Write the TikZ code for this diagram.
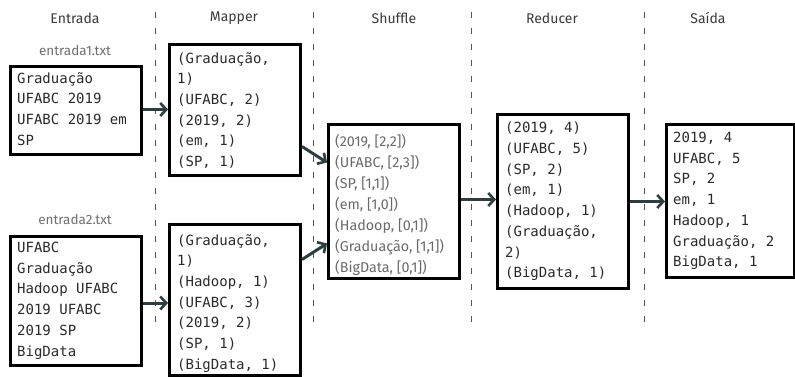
\documentclass[tikz,border=0pt]{standalone}
\usepackage{fontspec}
\setmainfont{Fira Sans}
\setmonofont{DejaVu Sans Mono}
\usetikzlibrary{arrows.meta,calc}
\definecolor{arrowc}{HTML}{2E3D3D}
\definecolor{titlec}{HTML}{3A3A3A}
\definecolor{labelc}{HTML}{707070}
\definecolor{boxtxt}{HTML}{2A2A2A}
\definecolor{shuftxt}{HTML}{6A6A6A}
\definecolor{dashc}{HTML}{555555}
\begin{document}
\begin{tikzpicture}[x=1pt,y=-1pt,
  box/.style={draw=black,line width=3pt,rectangle,inner sep=0pt,anchor=north west},
  monotext/.style={anchor=north west,inner sep=0pt,align=left,text=boxtxt,
    font=\fontsize{14}{20.7}\selectfont\ttfamily},
  shuftext/.style={anchor=north west,inner sep=0pt,align=left,text=shuftxt,
    font=\fontsize{14.3}{21}\selectfont},
  coltitle/.style={text=titlec,font=\fontsize{14}{16}\selectfont},
  filelabel/.style={text=labelc,font=\fontsize{13.5}{16}\selectfont},
  sep/.style={draw=dashc,line width=0.9pt,dash pattern=on 6pt off 10pt},
  flow/.style={draw=arrowc,line width=3pt,-{Straight Barb[length=6pt,width=13pt,line width=2.6pt]}}
]
\useasboundingbox (0,0) rectangle (795,377);

% column separators
\coordinate (s1t) at (155,12); \coordinate (s1b) at (155,323);
\coordinate (s2t) at (313,12); \coordinate (s2b) at (313,323);
\coordinate (s3t) at (471,12); \coordinate (s3b) at (471,323);
\coordinate (s4t) at (644,12); \coordinate (s4b) at (644,323);
\draw[sep] (s1t) -- (s1b);
\draw[sep] (s2t) -- (s2b);
\draw[sep] (s3t) -- (s3b);
\draw[sep] (s4t) -- (s4b);

% titles
\node[coltitle] (tEntrada) at (75,18) {Entrada};
\node[coltitle] (tMapper) at (234,18) {Mapper};
\node[coltitle] (tShuffle) at (394,18) {Shuffle};
\node[coltitle] (tReducer) at (552,18) {Reducer};
\node[coltitle] (tSaida) at (708,18) {Saída};

% file labels
\node[filelabel] (l1) at (75,51) {entrada1.txt};
\node[filelabel] (l2) at (75,220) {entrada2.txt};

% boxes
\node[box,minimum width=131pt,minimum height=88pt] (e1) at (9,65) {};
\node[monotext] (e1t) at (17,72) {Graduação\\UFABC 2019\\UFABC 2019 em\\SP};

\node[box,minimum width=131pt,minimum height=129pt] (e2) at (9,235) {};
\node[monotext] (e2t) at (17,242) {UFABC\\Graduação\\Hadoop UFABC\\2019 UFABC\\2019 SP\\BigData};

\node[box,minimum width=131pt,minimum height=131pt] (m1) at (168,43) {};
\node[monotext] (m1t) at (177,52) {(Graduação,\\1)\\(UFABC, 2)\\(2019, 2)\\(em, 1)\\(SP, 1)};

\node[box,minimum width=131pt,minimum height=151pt] (m2) at (168,223) {};
\node[monotext] (m2t) at (177,234) {(Graduação,\\1)\\(Hadoop, 1)\\(UFABC, 3)\\(2019, 2)\\(SP, 1)\\(BigData, 1)};

\node[box,minimum width=131pt,minimum height=154pt] (sh) at (327,123) {};
\node[shuftext] (sht) at (335,134) {(2019, [2,2])\\(UFABC, [2,3])\\(SP, [1,1])\\(em, [1,0])\\(Hadoop, [0,1])\\(Graduação, [1,1])\\(BigData, [0,1])};

\node[box,minimum width=131pt,minimum height=174pt] (rd) at (496,113) {};
\node[monotext] (rdt) at (505,122) {(2019, 4)\\(UFABC, 5)\\(SP, 2)\\(em, 1)\\(Hadoop, 1)\\(Graduação,\\2)\\(BigData, 1)};

\node[box,minimum width=128pt,minimum height=153pt] (sa) at (665,123) {};
\node[monotext] (sat) at (673,132) {2019, 4\\UFABC, 5\\SP, 2\\em, 1\\Hadoop, 1\\Graduação, 2\\BigData, 1};

% connectors
\draw[flow] ([yshift=1pt]e1.east) -- ([yshift=1pt]e1.east -| m1.west);
\draw[flow] ([yshift=-2pt]e2.east) -- ([yshift=-2pt]e2.east -| m2.west);
\draw[flow] ([yshift=-36.5pt]m1.east) -- ([yshift=39pt]sh.west);
\draw[flow] ([yshift=40.5pt]m2.east) -- ([yshift=-42pt]sh.west);
\draw[flow] ([yshift=2pt]sh.east) -- ([yshift=2pt]sh.east -| rd.west);
\draw[flow] (rd.east) -- (rd.east -| sa.west);
\end{tikzpicture}
\end{document}
